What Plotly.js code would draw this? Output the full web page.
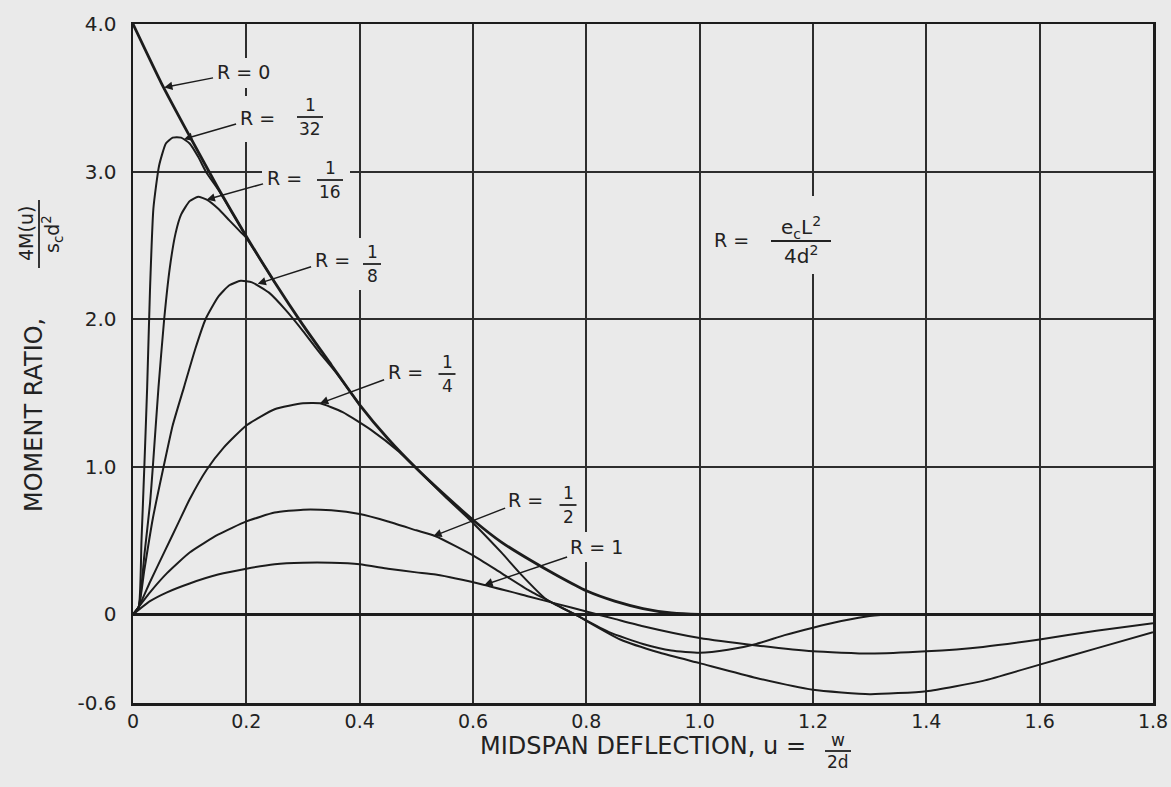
<!DOCTYPE html>
<html>
<head>
<meta charset="utf-8">
<script src="https://cdn.plot.ly/plotly-3.0.1.min.js"></script>
<style>
html,body{margin:0;padding:0;background:#eaeaea;}
#chart{width:1171px;height:787px;}
</style>
</head>
<body>
<div id="chart"></div>
<script>
// ---------------- data ----------------
const xTickVals = [0, 0.2, 0.4, 0.6, 0.8, 1.0, 1.2, 1.4, 1.6, 1.8];
const xTickText = ['0', '0.2', '0.4', '0.6', '0.8', '1.0', '1.2', '1.4', '1.6', '1.8'];
const yTickVals = [-0.6, 0, 1, 2, 3, 4];
const yTickText = ['-0.6', '0', '1.0', '2.0', '3.0', '4.0'];

// R = 0
const u_R0 = [0, 0.05, 0.1, 0.15, 0.2, 0.25, 0.3, 0.35, 0.4, 0.45, 0.5, 0.55, 0.6, 0.65, 0.7, 0.75, 0.8, 0.85, 0.9, 0.95, 1.0, 1.2, 1.4, 1.6, 1.8];
const m_R0 = [4.0, 3.6, 3.24, 2.89, 2.56, 2.25, 1.96, 1.69, 1.42, 1.19, 0.99, 0.81, 0.64, 0.49, 0.37, 0.26, 0.16, 0.09, 0.04, 0.01, 0, 0, 0, 0, 0];
// R = 1/32
const u_R32 = [0, 0.01, 0.015, 0.02, 0.025, 0.03, 0.036, 0.046, 0.058, 0.07, 0.085, 0.1, 0.115, 0.13, 0.15, 0.2];
const m_R32 = [0, 0.05, 0.5, 1.0, 1.54, 2.2, 2.75, 3.04, 3.19, 3.23, 3.23, 3.19, 3.1, 2.99, 2.88, 2.56];
// R = 1/16
const u_R16 = [0, 0.01, 0.02, 0.03, 0.035, 0.045, 0.055, 0.065, 0.075, 0.085, 0.1, 0.115, 0.13, 0.15, 0.17, 0.19, 0.2, 0.25];
const m_R16 = [0, 0.05, 0.4, 0.75, 1.0, 1.54, 2.0, 2.35, 2.58, 2.71, 2.8, 2.83, 2.81, 2.75, 2.67, 2.59, 2.55, 2.25];
// R = 1/8
const u_R8 = [0, 0.01, 0.02, 0.035, 0.054, 0.07, 0.09, 0.11, 0.128, 0.15, 0.17, 0.19, 0.21, 0.24, 0.27, 0.3, 0.33, 0.36, 0.4];
const m_R8 = [0, 0.05, 0.3, 0.65, 1.0, 1.28, 1.54, 1.8, 2.0, 2.15, 2.23, 2.26, 2.25, 2.18, 2.06, 1.92, 1.77, 1.63, 1.42];
// R = 1/4
const u_R4 = [0, 0.01, 0.03, 0.055, 0.08, 0.1, 0.13, 0.16, 0.2, 0.25, 0.3, 0.33, 0.37, 0.42, 0.47, 0.5, 0.55, 0.6, 0.65, 0.685, 0.73, 0.78, 0.86, 0.93, 1.0, 1.1, 1.2, 1.3, 1.4, 1.5, 1.6, 1.7, 1.8];
const m_R4 = [0, 0.05, 0.22, 0.42, 0.62, 0.78, 0.98, 1.13, 1.28, 1.39, 1.43, 1.43, 1.37, 1.25, 1.1, 0.99, 0.8, 0.62, 0.42, 0.27, 0.1, 0.0, -0.17, -0.26, -0.33, -0.43, -0.51, -0.54, -0.52, -0.45, -0.34, -0.23, -0.12];
// R = 1/2
const u_R2 = [0, 0.03, 0.06, 0.1, 0.15, 0.2, 0.25, 0.3, 0.35, 0.4, 0.45, 0.5, 0.534, 0.6, 0.65, 0.7, 0.75, 0.78, 0.84, 0.9, 0.95, 1.0, 1.05, 1.1, 1.15, 1.2, 1.25, 1.3, 1.35, 1.4, 1.6, 1.8];
const m_R2 = [0, 0.15, 0.28, 0.42, 0.54, 0.63, 0.69, 0.71, 0.705, 0.68, 0.63, 0.57, 0.53, 0.4, 0.28, 0.16, 0.06, 0.0, -0.12, -0.2, -0.245, -0.26, -0.24, -0.2, -0.14, -0.09, -0.045, -0.01, 0, 0, 0, 0];
// R = 1
const u_R1 = [0, 0.03, 0.06, 0.1, 0.15, 0.2, 0.25, 0.3, 0.35, 0.4, 0.45, 0.5, 0.534, 0.62, 0.7, 0.75, 0.8, 0.85, 0.9, 1.0, 1.1, 1.2, 1.3, 1.4, 1.5, 1.6, 1.7, 1.8];
const m_R1 = [0, 0.09, 0.15, 0.21, 0.27, 0.31, 0.34, 0.35, 0.35, 0.34, 0.31, 0.285, 0.27, 0.2, 0.12, 0.07, 0.02, -0.03, -0.08, -0.16, -0.21, -0.25, -0.265, -0.25, -0.22, -0.17, -0.11, -0.06];

// ---------------- layout geometry ----------------
const W = 1171, H = 787;
const ML = 133, MR = 18, MT = 24, MB = 84;
const PW = W - ML - MR, PH = H - MT - MB;
const XMIN = 0, XMAX = 1.8, YMIN = -0.6, YMAX = 4.0;
const BG = '#eaeaea', INK = '#1c1c1c', TXT = '#222222';
const FONT = 'DejaVu Sans, Liberation Sans, sans-serif';

const xpx = u => ML + (u - XMIN) / (XMAX - XMIN) * PW;
const ypx = v => MT + (YMAX - v) / (YMAX - YMIN) * PH;
const pxX = x => (x - ML) / PW;          // pixel -> paper
const pxY = y => (H - MB - y) / PH;

const series = [
  {name: 'R = 0', u: u_R0, m: m_R0, w: 2.8},
  {name: 'R = 1/32', u: u_R32, m: m_R32, w: 2},
  {name: 'R = 1/16', u: u_R16, m: m_R16, w: 2},
  {name: 'R = 1/8', u: u_R8, m: m_R8, w: 2},
  {name: 'R = 1/4', u: u_R4, m: m_R4, w: 2},
  {name: 'R = 1/2', u: u_R2, m: m_R2, w: 2},
  {name: 'R = 1', u: u_R1, m: m_R1, w: 2}
];

const traces = series.map(s => ({
  type: 'scatter', mode: 'lines', name: s.name, x: s.u, y: s.m,
  line: {color: INK, width: s.w, shape: 'spline', smoothing: 0.5},
  hoverinfo: 'x+y+name', showlegend: false
}));

// ---------------- labels ----------------
const labels = [
  {tip: [0.055, 3.57], text: 'R = 0', tx: 243, ty: 72, mask: [205, 58, 282, 88]},
  {tip: [0.09, 3.22], text: 'R =', tx: 257, ty: 118, num: '1', den: '32', fx: 310, fy: 117, fw: 26, mask: [232, 96, 328, 142]},
  {tip: [0.13, 2.81], text: 'R =', tx: 284, ty: 178, num: '1', den: '16', fx: 330, fy: 180, fw: 26, mask: [262, 156, 350, 205]},
  {tip: [0.22, 2.24], text: 'R =', tx: 332, ty: 260, num: '1', den: '8', fx: 372, fy: 264, fw: 18, mask: [308, 238, 390, 290]},
  {tip: [0.33, 1.43], text: 'R =', tx: 405, ty: 372, num: '1', den: '4', fx: 447, fy: 374, fw: 17, mask: [380, 350, 462, 398]},
  {tip: [0.53, 0.53], text: 'R =', tx: 526, ty: 500, num: '1', den: '2', fx: 568, fy: 505, fw: 17, mask: [500, 480, 584, 528]},
  {tip: [0.62, 0.2], text: 'R = 1', tx: 597, ty: 547, mask: [562, 532, 634, 562]}
];

const annotations = [];
const shapes = [];

function addFraction(fx, fy, fw, num, den, size, angle, off) {
  const vertical = angle === -90;
  off = off || 12;
  annotations.push({
    xref: 'paper', yref: 'paper',
    x: pxX(vertical ? fx - off : fx), y: pxY(vertical ? fy : fy - off),
    text: num, showarrow: false, xanchor: 'center', yanchor: 'middle', borderpad: 0,
    textangle: angle || 0, font: {family: FONT, size: size, color: TXT}
  });
  annotations.push({
    xref: 'paper', yref: 'paper',
    x: pxX(vertical ? fx + off : fx), y: pxY(vertical ? fy : fy + off),
    text: den, showarrow: false, xanchor: 'center', yanchor: 'middle', borderpad: 0,
    textangle: angle || 0, font: {family: FONT, size: size, color: TXT}
  });
  if (vertical) {
    shapes.push({type: 'line', xref: 'paper', yref: 'paper', layer: 'above',
      x0: pxX(fx), x1: pxX(fx), y0: pxY(fy - fw / 2), y1: pxY(fy + fw / 2),
      line: {color: TXT, width: 1.8}});
  } else {
    shapes.push({type: 'line', xref: 'paper', yref: 'paper', layer: 'above',
      x0: pxX(fx - fw / 2), x1: pxX(fx + fw / 2), y0: pxY(fy), y1: pxY(fy),
      line: {color: TXT, width: 1.8}});
  }
}

function addMask(m) {
  shapes.push({type: 'rect', xref: 'paper', yref: 'paper', layer: 'above',
    x0: pxX(m[0]), x1: pxX(m[2]), y0: pxY(m[3]), y1: pxY(m[1]),
    fillcolor: BG, line: {width: 0}});
}

labels.forEach(l => addMask(l.mask));
addMask([706, 196, 842, 274]);

labels.forEach(l => {
  const tx = xpx(l.tip[0]), ty = ypx(l.tip[1]);
  annotations.push({
    x: l.tip[0], y: l.tip[1], xref: 'x', yref: 'y',
    ax: l.tx - tx, ay: l.ty - ty,
    text: l.text, showarrow: true, arrowhead: 2, arrowsize: 1.1, arrowwidth: 1.5,
    arrowcolor: INK, standoff: 0, startstandoff: 2,
    font: {family: FONT, size: 19, color: TXT}
  });
  if (l.num) addFraction(l.fx, l.fy, l.fw, l.num, l.den, 17);
});

// R = e_c L^2 / 4 d^2
annotations.push({xref: 'paper', yref: 'paper', x: pxX(731), y: pxY(240), text: 'R =',
  showarrow: false, xanchor: 'center', yanchor: 'middle', font: {family: FONT, size: 19, color: TXT}});
addFraction(801, 241, 60, 'e<sub>c</sub>L<sup>2</sup>', '4d<sup>2</sup>', 20, 0, 14);

// y-axis title (rotated), placed where the reference has it, with its fraction above it
annotations.push({xref: 'paper', yref: 'paper', x: pxX(34), y: pxY(415), text: 'MOMENT RATIO,',
  showarrow: false, xanchor: 'center', yanchor: 'middle', textangle: -90,
  font: {family: FONT, size: 24, color: TXT}});
addFraction(39, 234, 68, '4M(u)', 's<sub>c</sub>d<sup>2</sup>', 19, -90, 13);
// x-title fraction
addFraction(838, 751, 26, 'w', '2d', 17, 0, 11);

const layout = {
  width: W, height: H,
  margin: {l: ML, r: MR, t: MT, b: MB, pad: 0},
  paper_bgcolor: BG, plot_bgcolor: BG,
  showlegend: false,
  xaxis: {
    range: [XMIN, XMAX], tickmode: 'array', tickvals: xTickVals, ticktext: xTickText,
    showgrid: true, gridcolor: '#2e2e2e', gridwidth: 2,
    zeroline: false, showline: true, mirror: true, linecolor: INK, linewidth: 2.5,
    ticks: '', ticklabeloverflow: 'allow',
    tickfont: {family: FONT, size: 19, color: TXT},
    title: {text: 'MIDSPAN DEFLECTION, u =', standoff: 6, font: {family: FONT, size: 24, color: TXT}}
  },
  yaxis: {
    range: [YMIN, YMAX], tickmode: 'array', tickvals: yTickVals, ticktext: yTickText,
    showgrid: true, gridcolor: '#2e2e2e', gridwidth: 2,
    zeroline: true, zerolinecolor: INK, zerolinewidth: 2.2,
    showline: true, mirror: true, linecolor: INK, linewidth: 2.5,
    ticks: 'outside', ticklen: 10, tickcolor: 'rgba(0,0,0,0)', ticklabeloverflow: 'allow',
    tickfont: {family: FONT, size: 20, color: TXT}
  },
  annotations: annotations,
  shapes: shapes
};

Plotly.newPlot('chart', traces, layout, {displayModeBar: false, staticPlot: true});
</script>
</body>
</html>
